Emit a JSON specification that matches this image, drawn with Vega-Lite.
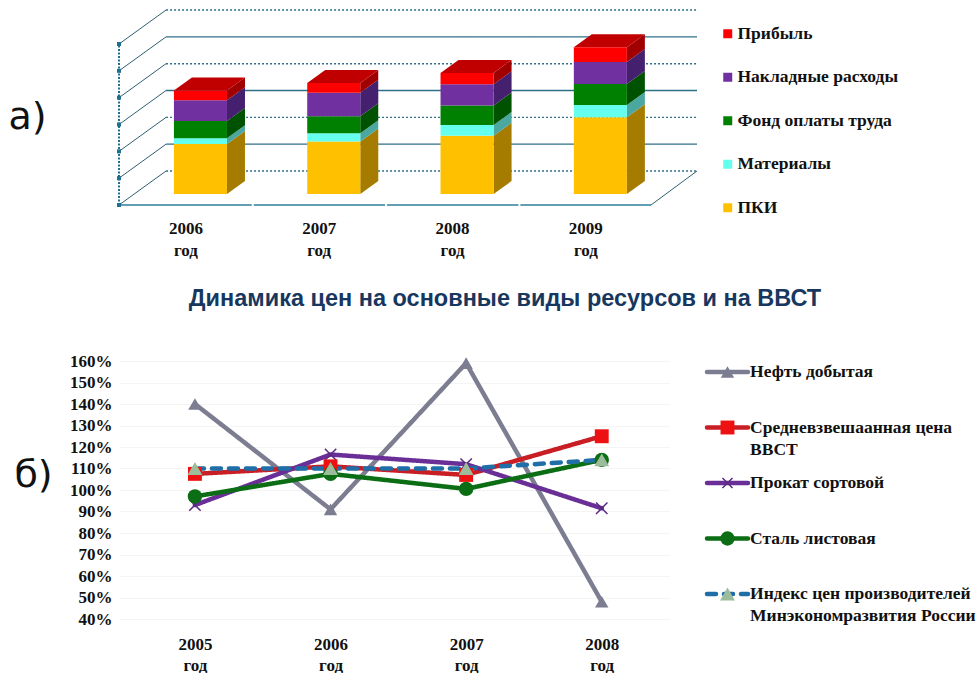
{
  "$schema": "https://vega.github.io/schema/vega-lite/v6.json",
  "background": "white",
  "padding": {"left": 7, "top": 5, "right": 0, "bottom": 0},
  "autosize": {"type": "pad"},
  "config": {"view": {"stroke": null}},
  "datasets": {
    "costs": [
      {"year": 2006, "item": "ПКИ", "rank": 1, "value": 18.6},
      {"year": 2006, "item": "Материалы", "rank": 2, "value": 2.2},
      {"year": 2006, "item": "Фонд оплаты труда", "rank": 3, "value": 6.4},
      {"year": 2006, "item": "Накладные расходы", "rank": 4, "value": 7.7},
      {"year": 2006, "item": "Прибыль", "rank": 5, "value": 3.7},
      {"year": 2007, "item": "ПКИ", "rank": 1, "value": 19.6},
      {"year": 2007, "item": "Материалы", "rank": 2, "value": 3.0},
      {"year": 2007, "item": "Фонд оплаты труда", "rank": 3, "value": 6.4},
      {"year": 2007, "item": "Накладные расходы", "rank": 4, "value": 8.7},
      {"year": 2007, "item": "Прибыль", "rank": 5, "value": 3.7},
      {"year": 2008, "item": "ПКИ", "rank": 1, "value": 21.7},
      {"year": 2008, "item": "Материалы", "rank": 2, "value": 4.0},
      {"year": 2008, "item": "Фонд оплаты труда", "rank": 3, "value": 7.3},
      {"year": 2008, "item": "Накладные расходы", "rank": 4, "value": 7.9},
      {"year": 2008, "item": "Прибыль", "rank": 5, "value": 4.2},
      {"year": 2009, "item": "ПКИ", "rank": 1, "value": 28.6},
      {"year": 2009, "item": "Материалы", "rank": 2, "value": 4.6},
      {"year": 2009, "item": "Фонд оплаты труда", "rank": 3, "value": 7.8},
      {"year": 2009, "item": "Накладные расходы", "rank": 4, "value": 8.2},
      {"year": 2009, "item": "Прибыль", "rank": 5, "value": 5.5}
    ],
    "levels": [{"level": 0}, {"level": 10}, {"level": 20}, {"level": 30}, {"level": 40}, {"level": 50}, {"level": 60}],
    "prices": [
      {"year": 2005, "series": "Нефть добытая", "pct": 140},
      {"year": 2006, "series": "Нефть добытая", "pct": 91},
      {"year": 2007, "series": "Нефть добытая", "pct": 159},
      {"year": 2008, "series": "Нефть добытая", "pct": 48},
      {"year": 2005, "series": "Средневзвешаанная цена ВВСТ", "pct": 107.5},
      {"year": 2006, "series": "Средневзвешаанная цена ВВСТ", "pct": 111},
      {"year": 2007, "series": "Средневзвешаанная цена ВВСТ", "pct": 107},
      {"year": 2008, "series": "Средневзвешаанная цена ВВСТ", "pct": 125},
      {"year": 2005, "series": "Прокат сортовой", "pct": 93},
      {"year": 2006, "series": "Прокат сортовой", "pct": 116.5},
      {"year": 2007, "series": "Прокат сортовой", "pct": 112},
      {"year": 2008, "series": "Прокат сортовой", "pct": 91.5},
      {"year": 2005, "series": "Сталь листовая", "pct": 97},
      {"year": 2006, "series": "Сталь листовая", "pct": 107.5},
      {"year": 2007, "series": "Сталь листовая", "pct": 100.5},
      {"year": 2008, "series": "Сталь листовая", "pct": 114},
      {"year": 2005, "series": "Индекс цен производителей Минэкономразвития России", "pct": 110},
      {"year": 2006, "series": "Индекс цен производителей Минэкономразвития России", "pct": 110},
      {"year": 2007, "series": "Индекс цен производителей Минэкономразвития России", "pct": 110},
      {"year": 2008, "series": "Индекс цен производителей Минэкономразвития России", "pct": 114}
    ],
    "seriesList": [
      {"series": "Нефть добытая", "label": "Нефть добытая"},
      {"series": "Средневзвешаанная цена ВВСТ", "label": "Средневзвешаанная цена|ВВСТ"},
      {"series": "Прокат сортовой", "label": "Прокат сортовой"},
      {"series": "Сталь листовая", "label": "Сталь листовая"},
      {"series": "Индекс цен производителей Минэкономразвития России", "label": "Индекс цен производителей|Минэкономразвития России"}
    ]
  },
  "bounds": "flush",
  "spacing": 156,
  "vconcat": [
    {
      "width": 578,
      "height": 200,
      "resolve": {"scale": {"color": "independent"}},
      "layer": [
        {
          "data": {"name": "levels"},
          "transform": [{"calculate": "datum.level + 12.67", "as": "back"}],
          "mark": {"type": "rule", "color": "#2f6f88", "strokeWidth": 1.4},
          "encoding": {
            "x": {"datum": 2005.742, "type": "quantitative", "scale": {"domain": [2005.389, 2009.725], "nice": false, "zero": false},
              "axis": {"values": [2006, 2007, 2008, 2009], "format": "d", "labelExpr": "[datum.label, 'год']", "title": null, "grid": false, "domain": false, "ticks": false, "labelOffset": -15, "labelPadding": 15, "labelLineHeight": 22, "labelFont": "Liberation Serif", "labelFontWeight": "bold", "labelFontSize": 17, "labelColor": "#111111", "labelOverlap": false, "labelFlush": false}},
            "x2": {"datum": 2009.725},
            "y": {"field": "back", "type": "quantitative", "scale": {"domain": [0, 74.54], "nice": false, "zero": false},
              "axis": {"title": "а)", "titleAngle": 0, "titleFont": "DejaVu Sans", "titleFontWeight": "normal", "titleFontSize": 38, "titleColor": "#111111", "titleX": -92, "titleY": 112, "titleAlign": "center", "titleBaseline": "middle", "labels": false, "ticks": false, "domain": false, "grid": false}},
            "strokeDash": {"condition": {"test": "datum.level % 20 === 0", "value": [2, 2]}, "value": [1, 0]}
          }
        },
        {
          "data": {"name": "levels"},
          "transform": [{"calculate": "datum.level + 12.67", "as": "back"}],
          "mark": {"type": "rule", "color": "#2f5f70", "strokeWidth": 1},
          "encoding": {
            "x": {"datum": 2005.389, "type": "quantitative", "scale": {"domain": [2005.389, 2009.725], "nice": false, "zero": false}},
            "x2": {"datum": 2005.742},
            "y": {"field": "level", "type": "quantitative", "scale": {"domain": [0, 74.54], "nice": false, "zero": false}},
            "y2": {"field": "back"}
          }
        },
        {
          "data": {"values": [{"level": 0}]},
          "transform": [{"calculate": "datum.level + 12.67", "as": "back"}],
          "mark": {"type": "rule", "color": "#2f5f70", "strokeWidth": 1},
          "encoding": {
            "x": {"datum": 2009.38, "type": "quantitative", "scale": {"domain": [2005.389, 2009.725], "nice": false, "zero": false}},
            "x2": {"datum": 2009.725},
            "y": {"field": "level", "type": "quantitative", "scale": {"domain": [0, 74.54], "nice": false, "zero": false}},
            "y2": {"field": "back"}
          }
        },
        {
          "data": {"values": [{"from": 2005.389, "to": 2006.385}, {"from": 2006.4, "to": 2007.385}, {"from": 2007.4, "to": 2008.385}, {"from": 2008.4, "to": 2009.38}]},
          "mark": {"type": "rule", "color": "#2f7f98", "strokeWidth": 1.6},
          "encoding": {
            "x": {"field": "from", "type": "quantitative", "scale": {"domain": [2005.389, 2009.725], "nice": false, "zero": false}},
            "x2": {"field": "to"},
            "y": {"datum": 0, "type": "quantitative", "scale": {"domain": [0, 74.54], "nice": false, "zero": false}}
          }
        },
        {
          "data": {"values": [{"low": 0, "high": 60}]},
          "mark": {"type": "rule", "color": "#1f6f8f", "strokeWidth": 2, "strokeDash": [2, 1.5]},
          "encoding": {
            "x": {"datum": 2005.389, "type": "quantitative", "scale": {"domain": [2005.389, 2009.725], "nice": false, "zero": false}},
            "y": {"field": "low", "type": "quantitative", "scale": {"domain": [0, 74.54], "nice": false, "zero": false}},
            "y2": {"field": "high"}
          }
        },
        {
          "data": {"name": "levels"},
          "mark": {"type": "point", "shape": "square", "filled": true, "size": 16, "color": "#1f6f8f", "opacity": 1},
          "encoding": {
            "x": {"datum": 2005.389, "type": "quantitative", "scale": {"domain": [2005.389, 2009.725], "nice": false, "zero": false}},
            "y": {"field": "level", "type": "quantitative", "scale": {"domain": [0, 74.54], "nice": false, "zero": false}}
          }
        },
        {
          "data": {"name": "costs"},
          "transform": [
            {"stack": "value", "groupby": ["year"], "sort": [{"field": "rank", "order": "ascending"}], "as": ["s0", "s1"]},
            {"calculate": "[0, 1]", "as": "k"},
            {"flatten": ["k"]},
            {"calculate": "datum.year + 0.199 + datum.k * 0.135", "as": "xp"},
            {"calculate": "datum.s0 + 4.1 + datum.k * 4.85", "as": "low"},
            {"calculate": "datum.s1 + 4.1 + datum.k * 4.85", "as": "high"}
          ],
          "mark": {"type": "area", "opacity": 1, "interpolate": "linear"},
          "encoding": {
            "x": {"field": "xp", "type": "quantitative", "scale": {"domain": [2005.389, 2009.725], "nice": false, "zero": false}},
            "y": {"field": "low", "type": "quantitative", "stack": null, "scale": {"domain": [0, 74.54], "nice": false, "zero": false}},
            "y2": {"field": "high"},
            "detail": {"field": "year"},
            "color": {"field": "item", "type": "nominal", "legend": null,
              "scale": {"domain": ["Прибыль", "Накладные расходы", "Фонд оплаты труда", "Материалы", "ПКИ"], "range": ["#a00000", "#44206f", "#005200", "#4aa8a0", "#a67c00"]}}
          }
        },
        {
          "data": {"name": "costs"},
          "transform": [
            {"joinaggregate": [{"op": "sum", "field": "value", "as": "total"}], "groupby": ["year"]},
            {"filter": "datum.rank === 5"},
            {"calculate": "[0, 1]", "as": "k"},
            {"flatten": ["k"]},
            {"calculate": "datum.year - 0.199 + datum.k * 0.135", "as": "xl"},
            {"calculate": "datum.year + 0.199 + datum.k * 0.135", "as": "xr"},
            {"calculate": "datum.total + 4.1 + datum.k * 4.85", "as": "level"}
          ],
          "mark": {"type": "area", "orient": "horizontal", "color": "#c00000", "opacity": 1},
          "encoding": {
            "y": {"field": "level", "type": "quantitative", "scale": {"domain": [0, 74.54], "nice": false, "zero": false}},
            "x": {"field": "xl", "type": "quantitative", "stack": null, "scale": {"domain": [2005.389, 2009.725], "nice": false, "zero": false}},
            "x2": {"field": "xr"},
            "detail": {"field": "year"}
          }
        },
        {
          "data": {"name": "costs"},
          "transform": [
            {"stack": "value", "groupby": ["year"], "sort": [{"field": "rank", "order": "ascending"}], "as": ["s0", "s1"]},
            {"calculate": "datum.year - 0.199", "as": "xl"},
            {"calculate": "datum.year + 0.199", "as": "xr"},
            {"calculate": "datum.s0 + 4.1", "as": "low"},
            {"calculate": "datum.s1 + 4.1", "as": "high"}
          ],
          "mark": {"type": "rect"},
          "encoding": {
            "x": {"field": "xl", "type": "quantitative", "scale": {"domain": [2005.389, 2009.725], "nice": false, "zero": false}},
            "x2": {"field": "xr"},
            "y": {"field": "low", "type": "quantitative", "scale": {"domain": [0, 74.54], "nice": false, "zero": false}},
            "y2": {"field": "high"},
            "color": {"field": "item", "type": "nominal",
              "scale": {"domain": ["Прибыль", "Накладные расходы", "Фонд оплаты труда", "Материалы", "ПКИ"], "range": ["#ff0000", "#7030a0", "#008000", "#66ffee", "#ffc000"]},
              "legend": {"orient": "none", "legendX": 600, "legendY": 20, "title": null, "symbolType": "square", "symbolSize": 81, "symbolStrokeWidth": 0, "rowPadding": 24.5, "labelFont": "Liberation Serif", "labelFontWeight": "bold", "labelFontSize": 17.5, "labelColor": "#111111", "labelLimit": 0, "labelOffset": 1}}
          }
        }
      ]
    },
    {
      "bounds": "flush",
      "spacing": 38,
      "hconcat": [
        {
          "width": 550,
          "height": 258,
          "title": {"text": "Динамика цен на основные виды ресурсов и на ВВСТ", "font": "Liberation Sans", "fontWeight": "bold", "fontSize": 23.5, "color": "#17375e", "anchor": "middle", "dx": 111, "offset": 42},
          "data": {"name": "prices"},
          "encoding": {
            "x": {"field": "year", "type": "quantitative", "scale": {"domain": [2004.44, 2008.496], "nice": false, "zero": false},
              "axis": {"values": [2005, 2006, 2007, 2008], "format": "d", "labelExpr": "[datum.label, 'год']", "title": null, "grid": false, "domain": false, "ticks": false, "labelPadding": 17, "labelLineHeight": 21, "labelFont": "Liberation Serif", "labelFontWeight": "bold", "labelFontSize": 17, "labelColor": "#111111", "labelOverlap": false, "labelFlush": false}},
            "y": {"field": "pct", "type": "quantitative", "scale": {"domain": [40, 160], "nice": false, "zero": false},
              "axis": {"values": [40, 50, 60, 70, 80, 90, 100, 110, 120, 130, 140, 150, 160], "tickCount": 20, "labelExpr": "datum.value + '%'", "title": "б)", "titleAngle": 0, "titleFont": "DejaVu Sans", "titleFontWeight": "normal", "titleFontSize": 38, "titleColor": "#111111", "titleX": -86, "titleY": 114, "titleAlign": "center", "titleBaseline": "middle", "grid": true, "gridColor": "#f4f4f4", "domain": false, "ticks": false, "labelPadding": 7, "labelFont": "Liberation Serif", "labelFontWeight": "bold", "labelFontSize": 17, "labelColor": "#111111", "labelOverlap": false, "labelFlush": false}}
          },
          "layer": [
            {
              "mark": {"type": "line", "strokeWidth": 4.5, "strokeCap": "round", "strokeJoin": "round"},
              "encoding": {
                "stroke": {"field": "series", "type": "nominal", "legend": null,
                  "scale": {"domain": ["Нефть добытая", "Средневзвешаанная цена ВВСТ", "Прокат сортовой", "Сталь листовая", "Индекс цен производителей Минэкономразвития России"], "range": ["#7d7d92", "#c81e24", "#6a2f96", "#0b6e14", "#1f6ea8"]}},
                "strokeDash": {"field": "series", "type": "nominal", "legend": null,
                  "scale": {"domain": ["Нефть добытая", "Средневзвешаанная цена ВВСТ", "Прокат сортовой", "Сталь листовая", "Индекс цен производителей Минэкономразвития России"], "range": [[1, 0], [1, 0], [1, 0], [1, 0], [9, 8]]}}
              }
            },
            {
              "transform": [{"filter": "datum.series === 'Прокат сортовой'"}],
              "mark": {"type": "point", "filled": false, "shape": "M-1,-1L1,1M-1,1L1,-1", "size": 130, "stroke": "#5a2a80", "strokeWidth": 1.5, "opacity": 1},
              "encoding": {}
            },
            {
              "transform": [{"filter": "datum.series !== 'Прокат сортовой'"}],
              "mark": {"type": "point", "filled": true, "opacity": 1},
              "encoding": {
                "fill": {"field": "series", "type": "nominal", "legend": null,
                  "scale": {"domain": ["Нефть добытая", "Средневзвешаанная цена ВВСТ", "Сталь листовая", "Индекс цен производителей Минэкономразвития России"], "range": ["#7d7d92", "#ee1111", "#0b6e14", "#9cbc9c"]}},
                "shape": {"field": "series", "type": "nominal", "legend": null,
                  "scale": {"domain": ["Нефть добытая", "Средневзвешаанная цена ВВСТ", "Сталь листовая", "Индекс цен производителей Минэкономразвития России"], "range": ["triangle-up", "square", "circle", "triangle-up"]}},
                "size": {"field": "series", "type": "nominal", "legend": null,
                  "scale": {"domain": ["Нефть добытая", "Средневзвешаанная цена ВВСТ", "Сталь листовая", "Индекс цен производителей Минэкономразвития России"], "range": [180, 220, 140, 300]}}
              }
            }
          ]
        },
        {
          "width": 273,
          "height": 258,
          "data": {"name": "seriesList"},
          "layer": [
            {
              "mark": {"type": "rule", "strokeWidth": 4.5, "strokeCap": "round"},
              "encoding": {
                "x": {"datum": 0, "type": "quantitative", "axis": null, "scale": {"domain": [0, 6.66], "nice": false, "zero": false}},
                "x2": {"datum": 1},
                "y": {"field": "series", "type": "nominal", "axis": null, "sort": null, "scale": {"type": "point", "padding": 0, "domain": ["Нефть добытая", "Средневзвешаанная цена ВВСТ", "Прокат сортовой", "Сталь листовая", "Индекс цен производителей Минэкономразвития России"], "range": [11, 233]}},
                "stroke": {"field": "series", "type": "nominal", "legend": null,
                  "scale": {"domain": ["Нефть добытая", "Средневзвешаанная цена ВВСТ", "Прокат сортовой", "Сталь листовая", "Индекс цен производителей Минэкономразвития России"], "range": ["#7d7d92", "#c81e24", "#6a2f96", "#0b6e14", "#1f6ea8"]}},
                "strokeDash": {"field": "series", "type": "nominal", "legend": null,
                  "scale": {"domain": ["Нефть добытая", "Средневзвешаанная цена ВВСТ", "Прокат сортовой", "Сталь листовая", "Индекс цен производителей Минэкономразвития России"], "range": [[1, 0], [1, 0], [1, 0], [1, 0], [9, 8]]}}
              }
            },
            {
              "transform": [{"filter": "datum.series === 'Прокат сортовой'"}],
              "mark": {"type": "point", "filled": false, "shape": "M-1,-1L1,1M-1,1L1,-1", "size": 100, "stroke": "#5a2a80", "strokeWidth": 1.5, "opacity": 1},
              "encoding": {
                "x": {"datum": 0.5, "type": "quantitative", "axis": null, "scale": {"domain": [0, 6.66], "nice": false, "zero": false}},
                "y": {"field": "series", "type": "nominal", "axis": null, "sort": null, "scale": {"type": "point", "padding": 0, "domain": ["Нефть добытая", "Средневзвешаанная цена ВВСТ", "Прокат сортовой", "Сталь листовая", "Индекс цен производителей Минэкономразвития России"], "range": [11, 233]}}
              }
            },
            {
              "transform": [{"filter": "datum.series !== 'Прокат сортовой'"}],
              "mark": {"type": "point", "filled": true, "opacity": 1},
              "encoding": {
                "x": {"datum": 0.5, "type": "quantitative", "axis": null, "scale": {"domain": [0, 6.66], "nice": false, "zero": false}},
                "y": {"field": "series", "type": "nominal", "axis": null, "sort": null, "scale": {"type": "point", "padding": 0, "domain": ["Нефть добытая", "Средневзвешаанная цена ВВСТ", "Прокат сортовой", "Сталь листовая", "Индекс цен производителей Минэкономразвития России"], "range": [11, 233]}},
                "fill": {"field": "series", "type": "nominal", "legend": null,
                  "scale": {"domain": ["Нефть добытая", "Средневзвешаанная цена ВВСТ", "Сталь листовая", "Индекс цен производителей Минэкономразвития России"], "range": ["#7d7d92", "#ee1111", "#0b6e14", "#9cbc9c"]}},
                "shape": {"field": "series", "type": "nominal", "legend": null,
                  "scale": {"domain": ["Нефть добытая", "Средневзвешаанная цена ВВСТ", "Сталь листовая", "Индекс цен производителей Минэкономразвития России"], "range": ["triangle-up", "square", "circle", "triangle-up"]}},
                "size": {"field": "series", "type": "nominal", "legend": null,
                  "scale": {"domain": ["Нефть добытая", "Средневзвешаанная цена ВВСТ", "Сталь листовая", "Индекс цен производителей Минэкономразвития России"], "range": [130, 220, 120, 170]}}
              }
            },
            {
              "mark": {"type": "text", "align": "left", "baseline": "alphabetic", "lineBreak": "|", "lineHeight": 22, "font": "Liberation Serif", "fontWeight": "bold", "fontSize": 17.5, "color": "#111111", "yOffset": 5},
              "encoding": {
                "x": {"datum": 1.05, "type": "quantitative", "axis": null, "scale": {"domain": [0, 6.66], "nice": false, "zero": false}},
                "y": {"field": "series", "type": "nominal", "axis": null, "sort": null, "scale": {"type": "point", "padding": 0, "domain": ["Нефть добытая", "Средневзвешаанная цена ВВСТ", "Прокат сортовой", "Сталь листовая", "Индекс цен производителей Минэкономразвития России"], "range": [11, 233]}},
                "text": {"field": "label", "type": "nominal"}
              }
            }
          ]
        }
      ]
    }
  ]
}
